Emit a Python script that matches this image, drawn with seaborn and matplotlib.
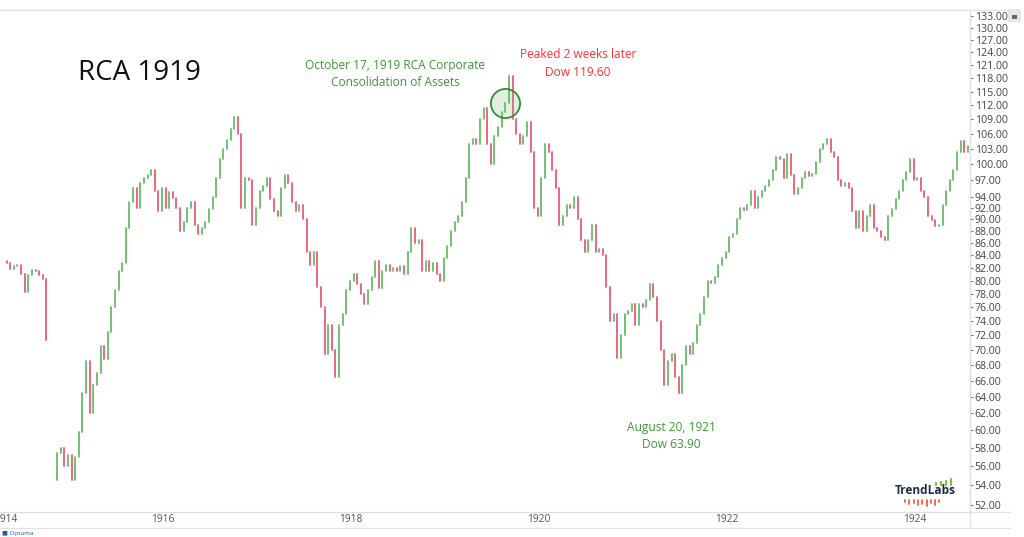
import numpy as np
import pandas as pd
import matplotlib
matplotlib.use("Agg")
import matplotlib.pyplot as plt
import matplotlib.transforms as mtransforms
from matplotlib.lines import Line2D
from matplotlib.patches import Rectangle
from matplotlib.ticker import NullLocator
import seaborn as sns

nan = np.nan

# Dow closes, one bar every two trading weeks (exchange shut Aug-Dec 1914 -> nan)
dow_1914 = [83.0, 82.8, 81.8, 82.2, 82.4, 81.0, 78.2, 80.8, 81.6, 81.5, 80.8, 80.2, 71.4, nan, 54.5]
dow_1915 = [57.5, 58.0, 56.0, 57.2, 54.5, 57.0, 59.8, 64.5, 68.5, 62.0, 65.5, 67.0, 70.5,
            68.8, 72.5, 76.0, 78.5, 81.5, 82.8, 88.5, 93.0, 95.5, 92.0, 96.5, 97.5, 98.0]
dow_1916 = [99.0, 95.0, 91.5, 95.5, 92.0, 94.8, 93.8, 92.0, 88.0, 89.5, 92.0, 93.0, 89.0,
            87.5, 88.5, 89.5, 91.8, 94.0, 97.5, 101.0, 103.0, 104.8, 107.0, 109.5, 106.0, 92.0]
dow_1917 = [97.5, 97.0, 89.0, 92.0, 95.0, 96.0, 97.5, 93.5, 91.5, 90.5, 95.5, 98.0, 96.5,
            93.0, 91.5, 92.5, 90.0, 84.5, 82.5, 84.5, 79.0, 76.0, 69.5, 73.5, 70.0, 66.5]
dow_1918 = [73.5, 75.0, 78.5, 80.0, 81.0, 79.5, 78.0, 76.5, 78.5, 80.5, 83.0, 78.8, 81.5,
            82.5, 81.5, 82.0, 81.5, 82.3, 81.0, 84.5, 88.5, 86.0, 86.5, 81.5, 83.0, 81.5]
dow_1919 = [82.8, 81.0, 80.0, 83.5, 85.5, 88.0, 89.5, 90.5, 93.0, 97.5, 104.0, 105.0, 104.0,
            109.0, 111.5, 104.0, 100.0, 105.5, 107.5, 110.5, 112.5, 118.5, 109.0, 106.0, 104.0, 105.5]
dow_1920 = [108.5, 102.5, 92.0, 90.5, 97.5, 104.0, 102.5, 99.0, 95.5, 89.0, 90.5, 92.5, 92.0,
            94.0, 90.0, 86.5, 84.5, 86.5, 89.0, 84.5, 85.0, 84.0, 79.0, 74.0, 75.0, 69.0]
dow_1921 = [72.0, 75.0, 75.5, 76.5, 73.5, 76.5, 76.0, 77.0, 79.5, 77.5, 74.0, 70.0, 65.5,
            68.5, 69.5, 66.5, 64.5, 68.0, 70.5, 69.5, 71.0, 73.5, 75.0, 77.5, 80.0, 79.6]
dow_1922 = [80.5, 82.5, 83.5, 84.5, 87.0, 87.5, 90.0, 92.0, 91.6, 92.5, 95.0, 92.0, 94.0,
            95.0, 96.0, 97.0, 99.0, 101.5, 101.0, 97.5, 102.0, 98.0, 94.5, 95.5, 97.5, 98.5]
dow_1923 = [97.8, 98.2, 100.5, 103.0, 104.0, 105.0, 102.5, 101.5, 97.0, 96.0, 96.5, 95.5, 91.5,
            88.5, 91.5, 88.0, 90.5, 92.5, 88.5, 88.0, 87.0, 86.5, 90.5, 91.8, 93.5, 95.0]
dow_1924 = [97.0, 98.5, 101.0, 97.0, 97.5, 95.0, 94.0, 90.5, 89.8, 88.8, 89.0, 92.5, 95.0,
            97.0, 99.0, 102.5, 104.5, 102.5, 103.5]

price_ticks = [52, 54, 56, 58, 60, 62, 64, 66, 68, 70, 72, 74, 76, 78, 80, 82, 84, 86, 88, 90,
               92, 94, 97, 100, 103, 106, 109, 112, 115, 118, 121, 124, 127, 130, 133]
year_labels = ["1914", "1916", "1918", "1920", "1922", "1924"]
year_start_bar = [-3.0, 40.5, 92.5, 144.5, 196.5, 248.5]
highlight_bar = 139  # week of Oct 17, 1919

GREEN = "#5cb85c"
RED = "#e8506f"

closes = dow_1914 + dow_1915 + dow_1916 + dow_1917 + dow_1918 + dow_1919 + \
    dow_1920 + dow_1921 + dow_1922 + dow_1923 + dow_1924
prev = [nan] + closes[:-1]

# every bar runs from the previous close to its own close
rows = []
for i, (o, c) in enumerate(zip(prev, closes)):
    if np.isnan(o) or np.isnan(c):
        continue
    d = "up" if c >= o else "down"
    rows.append((i, o, d))
    rows.append((i, c, d))
bars = pd.DataFrame(rows, columns=["bar", "price", "dir"])

sns.set_theme(style="white")
plt.rcParams["font.family"] = ["Open Sans", "DejaVu Sans"]

W, H = 1024, 537
fig = plt.figure(figsize=(W / 100, H / 100), dpi=100)
ax = fig.add_axes([0, 1 - 512 / H, 970 / W, 502 / H])

sns.lineplot(data=bars, x="bar", y="price", hue="dir", units="bar", estimator=None,
             sort=False, palette={"up": GREEN, "down": RED}, linewidth=1.35, alpha=0.9,
             legend=False, ax=ax)

ax.set_yscale("log")
ax.set_xlabel("")
ax.set_ylabel("")

# right price axis
ax.yaxis.tick_right()
ax.set_yticks(price_ticks)
ax.set_yticklabels([f"{t:.2f}" for t in price_ticks])
ax.yaxis.set_minor_locator(NullLocator())
ax.tick_params(axis="y", which="major", direction="out", length=2.5, width=0.8,
               color="#777777", pad=0.8, labelsize=7.6, labelcolor="#444444")

# year separators in the bottom strip
ax.set_xticks(year_start_bar)
ax.set_xticklabels([""] * len(year_start_bar))
ax.tick_params(axis="x", direction="out", length=11.5, width=1, color="#e4e4e4")

# limits after the ticks so the view is not widened
ax.set_ylim(51.3, 134.5)
ax.set_xlim(-0.83, 267.6)

trans = mtransforms.offset_copy(
    mtransforms.blended_transform_factory(ax.transData, ax.transAxes),
    fig=fig, x=2, y=0, units="dots")
for xs, lab in zip(year_start_bar, year_labels):
    ax.text(xs, -8 / 502, lab, transform=trans, ha="left", va="center",
            fontsize=7.4, color="#555555", clip_on=False)

for side in ["left", "top"]:
    ax.spines[side].set_visible(False)
for side in ["right", "bottom"]:
    ax.spines[side].set_color("#dedede")
    ax.spines[side].set_linewidth(1)

# frame lines around the chart
def px_line(x0, y0, x1, y1, color="#e2e2e2", lw=1):
    fig.add_artist(Line2D([x0 / W, x1 / W], [1 - y0 / H, 1 - y1 / H],
                          color=color, lw=lw, transform=fig.transFigure))

px_line(0, 10, 1010, 10)
px_line(0, 528, 1010, 528)
px_line(970, 512, 1010, 512)
px_line(970, 512, 970, 528)

# highlight circle
ax.plot(highlight_bar, closes[highlight_bar], marker="o", ms=21,
        mfc=(0.45, 0.72, 0.45, 0.22), mec="#2f8f2f", mew=1.3, zorder=5)

# annotations
def px_text(x, y, s, **kw):
    fig.text(x / W, 1 - y / H, s, **kw)

px_text(78, 73, "RCA 1919", fontsize=20, color="#111111", ha="left", va="center")
px_text(395, 65, "October 17, 1919 RCA Corporate", fontsize=8.6, color="#3a9a34",
        ha="center", va="center")
px_text(395, 82, "Consolidation of Assets", fontsize=8.6, color="#3a9a34",
        ha="center", va="center")
px_text(578, 55, "Peaked 2 weeks later", fontsize=8.6, color="#ff3030",
        ha="center", va="center")
px_text(578, 72, "Dow 119.60", fontsize=8.6, color="#ff3030", ha="center", va="center")
px_text(671, 428, "August 20, 1921", fontsize=8.6, color="#3a9a34", ha="center", va="center")
px_text(671, 445, "Dow 63.90", fontsize=8.6, color="#3a9a34", ha="center", va="center")

# TrendLabs mark
px_text(925, 491, "TrendLabs", fontsize=8.6, fontweight="bold", color="#1f2f45",
        ha="center", va="center")
for j, h in enumerate([2, 3, 4, 6]):
    px_line(936 + j * 5, 485, 936 + j * 5, 485 - h, color="#7dc242", lw=1.6)
for j, h in enumerate([2, 4, 3, 5, 4, 6, 3, 5, 2]):
    px_line(905 + j * 4.3, 500, 905 + j * 4.3, 500 + h, color="#f0623a", lw=1.3)

# Optuma tag and lock box
px_text(2, 533, "\u25a0 Optuma", fontsize=4.5, color="#2060a0", ha="left", va="center")
fig.add_artist(Rectangle((1008 / W, 1 - 22 / H), 13 / W, 13 / H, facecolor="#e6e6e6",
                         edgecolor="none", transform=fig.transFigure))
fig.add_artist(Rectangle((1012 / W, 1 - 19 / H), 5 / W, 4 / H, facecolor="#666666",
                         edgecolor="none", transform=fig.transFigure))

fig.savefig("out.png", dpi=100)
